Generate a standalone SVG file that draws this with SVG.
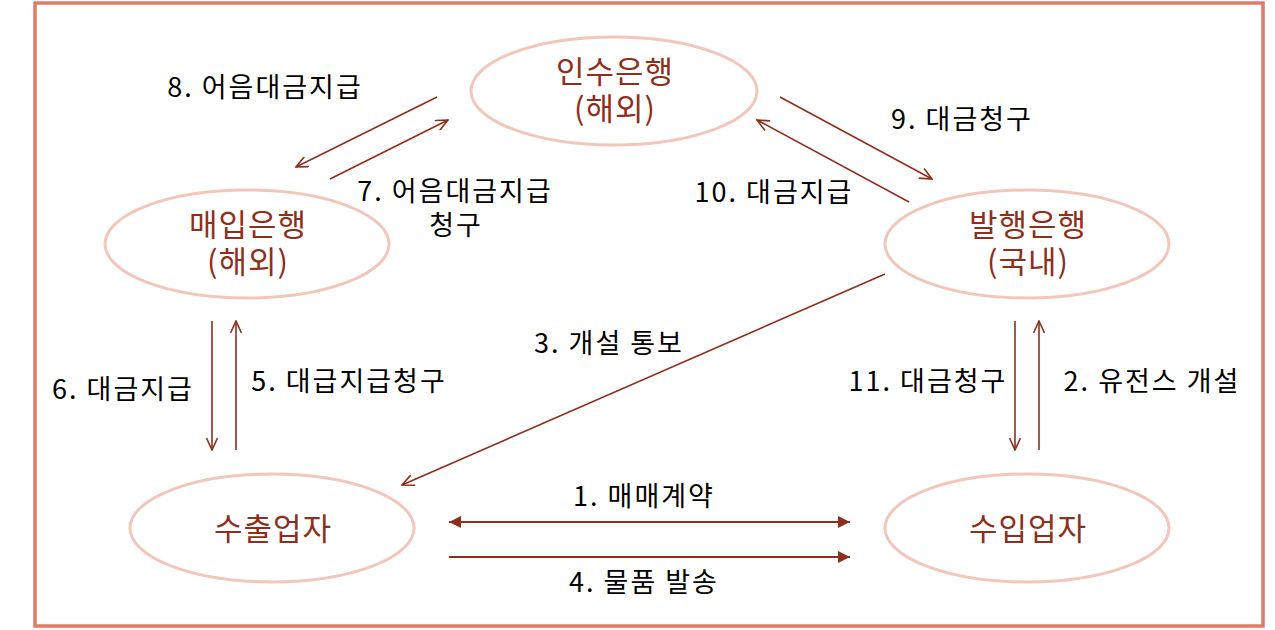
<svg xmlns="http://www.w3.org/2000/svg" width="1275" height="630" viewBox="0 0 1275 630">
<defs>
<style>
.frame{fill:#fff;stroke:#E27A68;stroke-width:3.5}
.node ellipse{fill:none;stroke:#F3C6BB;stroke-width:3}
.node text{font-family:"Noto Sans CJK KR","Noto Sans",sans-serif;font-size:31px;letter-spacing:1px;fill:#8E2F1C;text-anchor:middle}
.lbl{font-family:"Noto Sans CJK KR","Noto Sans",sans-serif;font-size:27px;letter-spacing:2px;fill:#000;text-anchor:middle}
.c{stroke:#8E2F1C;stroke-width:1.6;fill:none}
.h{stroke:#8E2F1C;stroke-width:2.2;fill:none}
</style>
<marker id="open" markerUnits="userSpaceOnUse" viewBox="0 0 14 12" refX="13" refY="6" markerWidth="14" markerHeight="12" orient="auto-start-reverse">
<path d="M1,0.5 L13,6 L1,11.5" fill="none" stroke="#8E2F1C" stroke-width="1.6"/>
</marker>
<marker id="fill" markerUnits="userSpaceOnUse" viewBox="0 0 12 12" refX="12" refY="6" markerWidth="12" markerHeight="12" orient="auto-start-reverse">
<path d="M0,0 L12,6 L0,12 z" fill="#8E2F1C"/>
</marker>
</defs>
<rect class="frame" x="35" y="3" width="1228" height="623"/>
<g id="node-acceptBank" class="node">
<ellipse cx="614" cy="91" rx="143" ry="54"/>
<text x="615" y="83">인수은행</text>
<text x="615" y="120">(해외)</text>
</g>
<g id="node-negoBank" class="node">
<ellipse cx="247" cy="244" rx="142" ry="54"/>
<text x="248" y="236">매입은행</text>
<text x="248" y="273">(해외)</text>
</g>
<g id="node-issueBank" class="node">
<ellipse cx="1027" cy="244" rx="142" ry="54"/>
<text x="1028" y="236">발행은행</text>
<text x="1028" y="273">(국내)</text>
</g>
<g id="node-exporter" class="node">
<ellipse cx="272" cy="528" rx="142" ry="54"/>
<text x="273" y="540">수출업자</text>
</g>
<g id="node-importer" class="node">
<ellipse cx="1027" cy="528" rx="142" ry="54"/>
<text x="1028" y="540">수입업자</text>
</g>
<g id="connectors">
<line class="c" x1="437" y1="97" x2="296" y2="167" marker-end="url(#open)"/>
<line class="c" x1="330" y1="179" x2="448" y2="120" marker-end="url(#open)"/>
<line class="c" x1="780" y1="97" x2="932" y2="179" marker-end="url(#open)"/>
<line class="c" x1="909" y1="202" x2="757" y2="120" marker-end="url(#open)"/>
<line class="c" x1="885" y1="274" x2="402" y2="485" marker-end="url(#open)"/>
<line class="c" x1="212" y1="321" x2="212" y2="450" marker-end="url(#open)"/>
<line class="c" x1="236" y1="450" x2="236" y2="321" marker-end="url(#open)"/>
<line class="c" x1="1015" y1="321" x2="1015" y2="450" marker-end="url(#open)"/>
<line class="c" x1="1039" y1="450" x2="1039" y2="321" marker-end="url(#open)"/>
<line class="h" x1="449" y1="522" x2="850" y2="522" marker-start="url(#fill)" marker-end="url(#fill)"/>
<line class="h" x1="449" y1="557" x2="850" y2="557" marker-end="url(#fill)"/>
</g>
<g id="labels">
<text class="lbl" x="265" y="97">8. 어음대금지급</text>
<text class="lbl" x="455" y="201">7. 어음대금지급</text>
<text class="lbl" x="456" y="235">청구</text>
<text class="lbl" x="962" y="129">9. 대금청구</text>
<text class="lbl" x="774" y="202">10. 대금지급</text>
<text class="lbl" x="609" y="353">3. 개설 통보</text>
<text class="lbl" x="123" y="399">6. 대금지급</text>
<text class="lbl" x="349" y="391">5. 대급지급청구</text>
<text class="lbl" x="928" y="391">11. 대금청구</text>
<text class="lbl" x="1152" y="391">2. 유전스 개설</text>
<text class="lbl" x="644" y="506">1. 매매계약</text>
<text class="lbl" x="644" y="592">4. 물품 발송</text>
</g>
</svg>
